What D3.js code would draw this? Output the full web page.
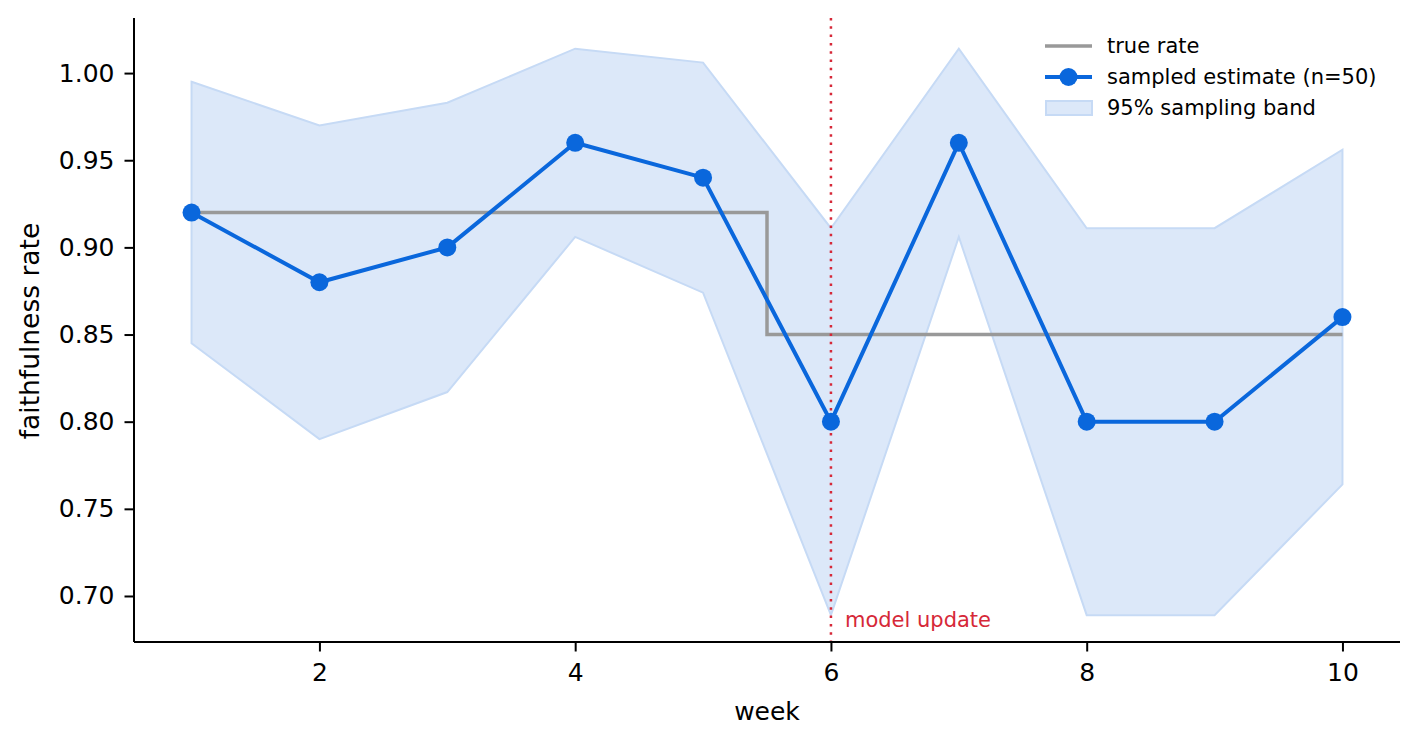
<!DOCTYPE html>
<html>
<head>
<meta charset="utf-8">
<script src="https://cdn.jsdelivr.net/npm/d3@7"></script>
<style>
  body { margin: 0; background: #fff; }
  svg { display: block; font-family: "DejaVu Sans", sans-serif; }
</style>
</head>
<body>
<svg id="chart"></svg>
<script>
// values
const weeks = [1, 2, 3, 4, 5, 6, 7, 8, 9, 10];
const estimate = [0.92, 0.88, 0.90, 0.96, 0.94, 0.80, 0.96, 0.80, 0.80, 0.86];
const bandLow = [0.845, 0.790, 0.817, 0.906, 0.874, 0.689, 0.906, 0.689, 0.689, 0.764];
const bandHigh = [0.995, 0.970, 0.983, 1.014, 1.006, 0.911, 1.014, 0.911, 0.911, 0.956];
const trueWeeks = [1, 5.5, 5.5, 10];
const trueRate = [0.92, 0.92, 0.85, 0.85];
const updateWeek = 6;
const xTicks = [2, 4, 6, 8, 10];
const yTicks = [0.70, 0.75, 0.80, 0.85, 0.90, 0.95, 1.00];

const width = 1418, height = 744;
const margin = { top: 18, right: 18, bottom: 102, left: 134 };

const blue = "#0a67dc", gray = "#999999", red = "#d62838";

const svg = d3.select("#chart").attr("width", width).attr("height", height);

const x = d3.scaleLinear()
    .domain([0.55, 10.45])
    .range([margin.left, width - margin.right]);

const y = d3.scaleLinear()
    .domain([0.6736, 1.0316])
    .range([height - margin.bottom, margin.top]);

const pts = weeks.map((w, i) => ({ w, est: estimate[i], lo: bandLow[i], hi: bandHigh[i] }));

// sampling band
svg.append("path")
    .datum(pts)
    .attr("fill", "#dce8f9")
    .attr("stroke", "#c6daf5")
    .attr("stroke-width", 2)
    .attr("d", d3.area().x(d => x(d.w)).y0(d => y(d.lo)).y1(d => y(d.hi)));

// true rate step
svg.append("path")
    .datum(trueWeeks.map((w, i) => [w, trueRate[i]]))
    .attr("fill", "none")
    .attr("stroke", gray)
    .attr("stroke-width", 3.5)
    .attr("d", d3.line().x(d => x(d[0])).y(d => y(d[1])));

// model update marker
svg.append("line")
    .attr("x1", x(updateWeek)).attr("x2", x(updateWeek))
    .attr("y1", margin.top).attr("y2", height - margin.bottom)
    .attr("stroke", red)
    .attr("stroke-width", 2.5)
    .attr("stroke-dasharray", "2.5,5.8");

svg.append("text")
    .attr("x", x(updateWeek) + 14)
    .attr("y", y(0.6736) - 15)
    .attr("fill", red)
    .attr("font-size", "21px")
    .text("model update");

// sampled estimate
svg.append("path")
    .datum(pts)
    .attr("fill", "none")
    .attr("stroke", blue)
    .attr("stroke-width", 4)
    .attr("d", d3.line().x(d => x(d.w)).y(d => y(d.est)));

svg.append("g")
    .selectAll("circle")
    .data(pts)
    .join("circle")
    .attr("cx", d => x(d.w))
    .attr("cy", d => y(d.est))
    .attr("r", 9)
    .attr("fill", blue);

// axes
const xAxis = svg.append("g")
    .attr("transform", `translate(0, ${height - margin.bottom})`)
    .call(d3.axisBottom(x).tickValues(xTicks).tickSize(9.5).tickPadding(12).tickSizeOuter(0));

const yAxis = svg.append("g")
    .attr("transform", `translate(${margin.left}, 0)`)
    .call(d3.axisLeft(y).tickValues(yTicks).tickFormat(d3.format(".2f")).tickSize(9.5).tickPadding(10).tickSizeOuter(0));

[xAxis, yAxis].forEach(g => {
    g.attr("font-size", "25px").attr("font-family", "DejaVu Sans, sans-serif");
    g.select(".domain").attr("stroke", "#000").attr("stroke-width", 2);
    g.selectAll(".tick line").attr("stroke", "#000").attr("stroke-width", 2);
    g.selectAll(".tick text").attr("fill", "#000");
});
// the domain path should span the full axes area
xAxis.select(".domain").attr("d", `M${margin.left},0H${width - margin.right}`);
yAxis.select(".domain").attr("d", `M0,${margin.top}V${height - margin.bottom}`);

svg.append("text")
    .attr("x", (margin.left + width - margin.right) / 2)
    .attr("y", 720)
    .attr("text-anchor", "middle")
    .attr("font-size", "25px")
    .text("week");

svg.append("text")
    .attr("transform", `translate(39, 331) rotate(-90)`)
    .attr("text-anchor", "middle")
    .attr("font-size", "26.5px")
    .text("faithfulness rate");

// legend
const legend = svg.append("g").attr("transform", "translate(1045, 46)");
const rowGap = 31;

legend.append("line")
    .attr("x1", 0).attr("x2", 47).attr("y1", 0).attr("y2", 0)
    .attr("stroke", gray).attr("stroke-width", 3.5);

legend.append("line")
    .attr("x1", 0).attr("x2", 47).attr("y1", rowGap).attr("y2", rowGap)
    .attr("stroke", blue).attr("stroke-width", 4);
legend.append("circle")
    .attr("cx", 23.5).attr("cy", rowGap).attr("r", 9).attr("fill", blue);

legend.append("rect")
    .attr("x", 1).attr("y", 2 * rowGap - 7).attr("width", 46).attr("height", 14)
    .attr("fill", "#dce8f9").attr("stroke", "#c6daf5").attr("stroke-width", 2);

["true rate", "sampled estimate (n=50)", "95% sampling band"].forEach((t, i) => {
    legend.append("text")
        .attr("x", 62)
        .attr("y", i * rowGap)
        .attr("dy", "0.35em")
        .attr("font-size", "21px")
        .text(t);
});
</script>
</body>
</html>
